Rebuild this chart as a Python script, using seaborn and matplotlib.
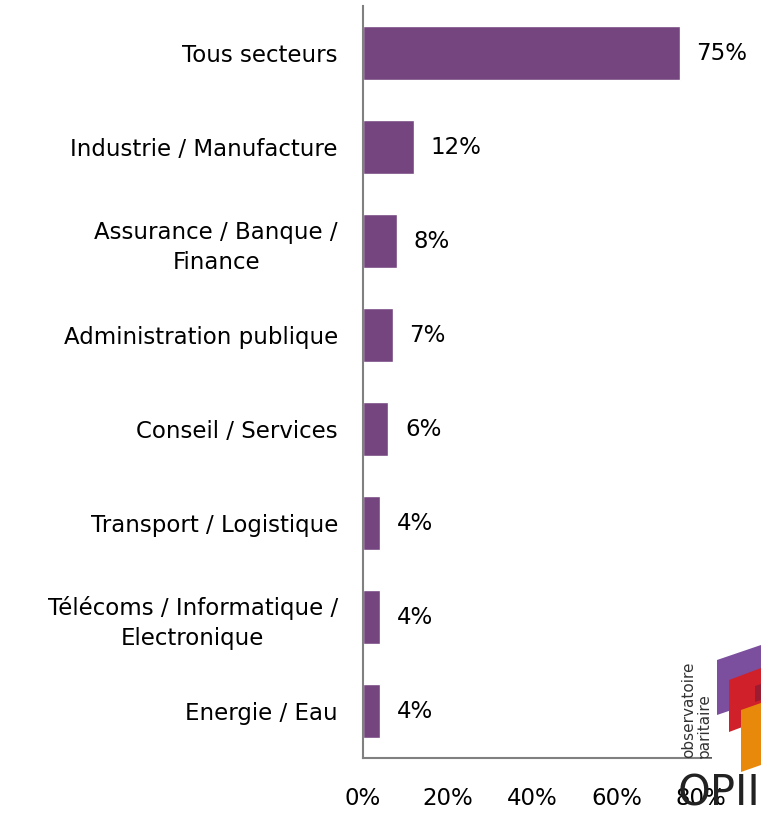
import matplotlib
matplotlib.use("Agg")
import matplotlib.pyplot as plt
import seaborn as sns
import pandas as pd
from matplotlib.patches import Polygon

sectors = ["Tous secteurs", "Industrie / Manufacture", "Assurance / Banque /\nFinance",
           "Administration publique", "Conseil / Services", "Transport / Logistique",
           "Télécoms / Informatique /\nElectronique", "Energie / Eau"]
values = [75, 12, 8, 7, 6, 4, 4, 4]
xticks = [0, 20, 40, 60, 80]
xtick_labels = ["0%", "20%", "40%", "60%", "80%"]

sns.set_theme(style="white")
plt.rcParams['font.family'] = ['DejaVu Sans']

FS = 16.5
df = pd.DataFrame({"sector": sectors, "value": values})

fig = plt.figure(figsize=(7.61, 8.15), dpi=100)
ax = fig.add_axes([363/761, 1-758/815, (701-363)/761, (758-6)/815])
sns.barplot(data=df, x="value", y="sector", color="#74457f", width=0.57,
            saturation=1, ax=ax, orient="h")
ax.set_xlim(0, 80)
ax.set_ylim(7.5, -0.5)
ax.set_xlabel("")
ax.set_ylabel("")
ax.set_xticks(xticks)
ax.set_xticklabels(xtick_labels)
ax.tick_params(axis="x", length=0, pad=21, labelsize=FS, labelcolor="black")
ax.tick_params(axis="y", length=0, pad=18, labelsize=FS, labelcolor="black")
for lab in ax.get_yticklabels():
    lab.set_multialignment("center")
    lab.set_linespacing(1.4)
for s in ["top", "right"]:
    ax.spines[s].set_visible(False)
for s in ["left", "bottom"]:
    ax.spines[s].set_color("#808080")
    ax.spines[s].set_linewidth(1.5)

for i, v in enumerate(values):
    ax.annotate(f"{v}%", xy=(v, i), xytext=(12, 0), textcoords="offset points",
                ha="left", va="center", fontsize=FS, color="black")

# approximate logo (decoration)
def px(x, y):
    return (x/761, 1-y/815)
cols = ["#7b4f9e", "#d0202a", "#9b1b30", "#e8890c"]
shapes = [
    [(717, 660), (761, 645), (761, 700), (717, 715)],
    [(729, 680), (761, 668), (761, 720), (729, 732)],
    [(755, 686), (761, 684), (761, 700), (755, 702)],
    [(741, 710), (761, 703), (761, 765), (741, 772)],
]
for c, sh in zip(cols, shapes):
    fig.patches.append(Polygon([px(*p) for p in sh], closed=True, transform=fig.transFigure,
                               facecolor=c, edgecolor="none"))
fig.text(*px(681, 758), "observatoire", rotation=90, fontsize=11, ha="left", va="bottom",
         color="#333333")
fig.text(*px(697, 758), "paritaire", rotation=90, fontsize=11, ha="left", va="bottom",
         color="#333333")
fig.text(*px(678, 815), "OPII", fontsize=30, ha="left", va="bottom", color="#222222")

fig.savefig("out.png", dpi=100)
